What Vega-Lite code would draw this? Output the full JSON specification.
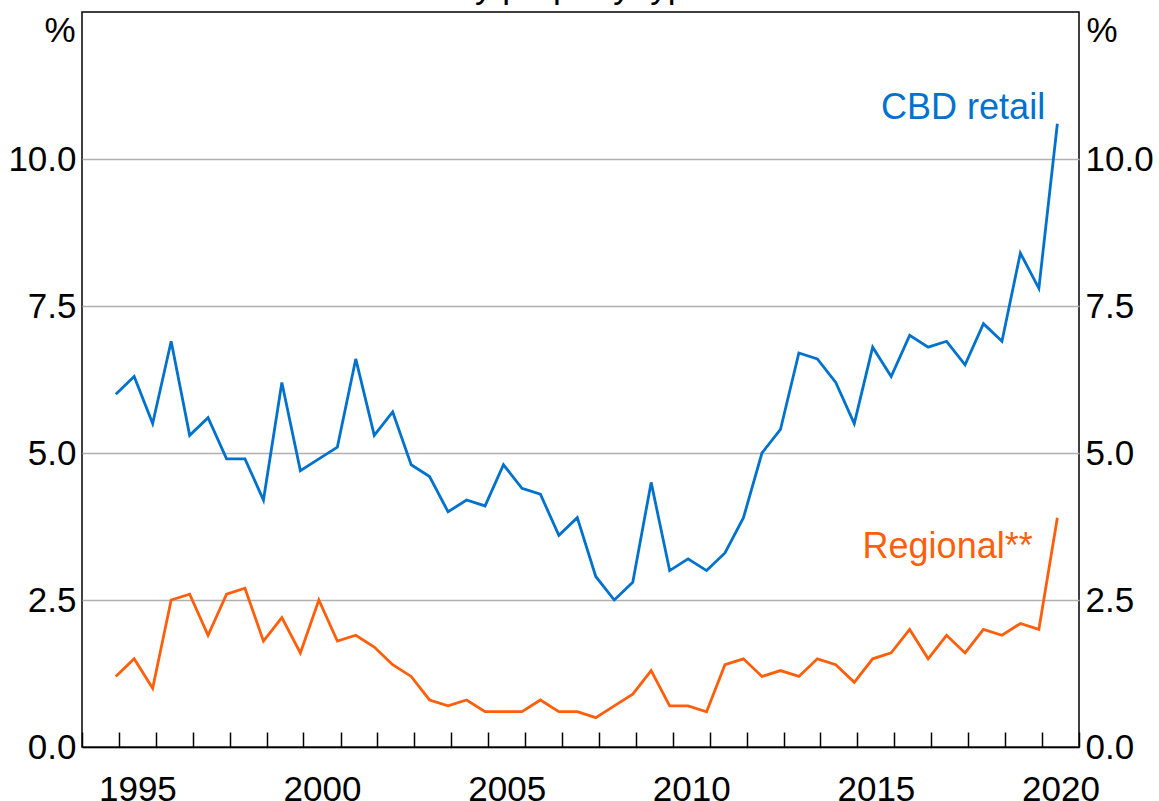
{
  "$schema": "https://vega.github.io/schema/vega-lite/v6.json",
  "width": 997,
  "height": 735,
  "autosize": {"type": "none"},
  "padding": {"left": 82, "top": 12, "right": 80, "bottom": 54},
  "config": {
    "view": {"stroke": "black", "strokeWidth": 1.5},
    "font": "Liberation Sans",
    "axis": {"labelFont": "Liberation Sans", "titleFont": "Liberation Sans", "labelColor": "black", "titleColor": "black"}
  },
  "layer": [
    {
      "data": {"values": [
        {"date": "1994-12-01", "cbd": 6.0, "regional": 1.2},
        {"date": "1995-06-01", "cbd": 6.3, "regional": 1.5},
        {"date": "1995-12-01", "cbd": 5.5, "regional": 1.0},
        {"date": "1996-06-01", "cbd": 6.9, "regional": 2.5},
        {"date": "1996-12-01", "cbd": 5.3, "regional": 2.6},
        {"date": "1997-06-01", "cbd": 5.6, "regional": 1.9},
        {"date": "1997-12-01", "cbd": 4.9, "regional": 2.6},
        {"date": "1998-06-01", "cbd": 4.9, "regional": 2.7},
        {"date": "1998-12-01", "cbd": 4.2, "regional": 1.8},
        {"date": "1999-06-01", "cbd": 6.2, "regional": 2.2},
        {"date": "1999-12-01", "cbd": 4.7, "regional": 1.6},
        {"date": "2000-06-01", "cbd": 4.9, "regional": 2.5},
        {"date": "2000-12-01", "cbd": 5.1, "regional": 1.8},
        {"date": "2001-06-01", "cbd": 6.6, "regional": 1.9},
        {"date": "2001-12-01", "cbd": 5.3, "regional": 1.7},
        {"date": "2002-06-01", "cbd": 5.7, "regional": 1.4},
        {"date": "2002-12-01", "cbd": 4.8, "regional": 1.2},
        {"date": "2003-06-01", "cbd": 4.6, "regional": 0.8},
        {"date": "2003-12-01", "cbd": 4.0, "regional": 0.7},
        {"date": "2004-06-01", "cbd": 4.2, "regional": 0.8},
        {"date": "2004-12-01", "cbd": 4.1, "regional": 0.6},
        {"date": "2005-06-01", "cbd": 4.8, "regional": 0.6},
        {"date": "2005-12-01", "cbd": 4.4, "regional": 0.6},
        {"date": "2006-06-01", "cbd": 4.3, "regional": 0.8},
        {"date": "2006-12-01", "cbd": 3.6, "regional": 0.6},
        {"date": "2007-06-01", "cbd": 3.9, "regional": 0.6},
        {"date": "2007-12-01", "cbd": 2.9, "regional": 0.5},
        {"date": "2008-06-01", "cbd": 2.5, "regional": 0.7},
        {"date": "2008-12-01", "cbd": 2.8, "regional": 0.9},
        {"date": "2009-06-01", "cbd": 4.5, "regional": 1.3},
        {"date": "2009-12-01", "cbd": 3.0, "regional": 0.7},
        {"date": "2010-06-01", "cbd": 3.2, "regional": 0.7},
        {"date": "2010-12-01", "cbd": 3.0, "regional": 0.6},
        {"date": "2011-06-01", "cbd": 3.3, "regional": 1.4},
        {"date": "2011-12-01", "cbd": 3.9, "regional": 1.5},
        {"date": "2012-06-01", "cbd": 5.0, "regional": 1.2},
        {"date": "2012-12-01", "cbd": 5.4, "regional": 1.3},
        {"date": "2013-06-01", "cbd": 6.7, "regional": 1.2},
        {"date": "2013-12-01", "cbd": 6.6, "regional": 1.5},
        {"date": "2014-06-01", "cbd": 6.2, "regional": 1.4},
        {"date": "2014-12-01", "cbd": 5.5, "regional": 1.1},
        {"date": "2015-06-01", "cbd": 6.8, "regional": 1.5},
        {"date": "2015-12-01", "cbd": 6.3, "regional": 1.6},
        {"date": "2016-06-01", "cbd": 7.0, "regional": 2.0},
        {"date": "2016-12-01", "cbd": 6.8, "regional": 1.5},
        {"date": "2017-06-01", "cbd": 6.9, "regional": 1.9},
        {"date": "2017-12-01", "cbd": 6.5, "regional": 1.6},
        {"date": "2018-06-01", "cbd": 7.2, "regional": 2.0},
        {"date": "2018-12-01", "cbd": 6.9, "regional": 1.9},
        {"date": "2019-06-01", "cbd": 8.4, "regional": 2.1},
        {"date": "2019-12-01", "cbd": 7.8, "regional": 2.0},
        {"date": "2020-06-01", "cbd": 10.6, "regional": 3.9}
      ]},
      "encoding": {
        "x": {
          "field": "date",
          "type": "temporal",
          "scale": {"type": "utc", "nice": false, "domain": [{"year": 1994, "utc": true}, {"year": 2021, "utc": true}]},
          "axis": {
            "title": null,
            "values": [
              {"year": 1994, "utc": true}, {"year": 1995, "utc": true}, {"year": 1996, "utc": true}, {"year": 1997, "utc": true},
              {"year": 1998, "utc": true}, {"year": 1999, "utc": true}, {"year": 2000, "utc": true}, {"year": 2001, "utc": true},
              {"year": 2002, "utc": true}, {"year": 2003, "utc": true}, {"year": 2004, "utc": true}, {"year": 2005, "utc": true},
              {"year": 2006, "utc": true}, {"year": 2007, "utc": true}, {"year": 2008, "utc": true}, {"year": 2009, "utc": true},
              {"year": 2010, "utc": true}, {"year": 2011, "utc": true}, {"year": 2012, "utc": true}, {"year": 2013, "utc": true},
              {"year": 2014, "utc": true}, {"year": 2015, "utc": true}, {"year": 2016, "utc": true}, {"year": 2017, "utc": true},
              {"year": 2018, "utc": true}, {"year": 2019, "utc": true}, {"year": 2020, "utc": true}, {"year": 2021, "utc": true}
            ],
            "labelExpr": "utcyear(datum.value) % 5 === 0 ? utcFormat(datum.value, '%Y') : ''",
            "labelOffset": 18.5,
            "labelFontSize": 35,
            "labelPadding": 40,
            "labelFlush": false,
            "labelOverlap": false,
            "labelBound": false,
            "ticks": true,
            "tickSize": -15,
            "tickColor": "black",
            "tickWidth": 1.5,
            "grid": false,
            "domain": true,
            "domainColor": "black",
            "domainWidth": 1.5,
            "zindex": 1
          }
        }
      },
      "layer": [
        {
          "mark": {"type": "line", "color": "#0072ce", "strokeWidth": 2.8},
          "encoding": {
            "y": {
              "field": "cbd",
              "type": "quantitative",
              "scale": {"domain": [0, 12.5], "nice": false},
              "axis": {
                "orient": "left",
                "values": [0, 2.5, 5, 7.5, 10],
                "format": ".1f",
                "ticks": false,
                "domain": false,
                "grid": true,
                "gridColor": "#b0b0b0",
                "gridWidth": 1.5,
                "labelFontSize": 35,
                "labelPadding": 6,
                "title": "%",
                "titleAngle": 0,
                "titleAlign": "right",
                "titleBaseline": "alphabetic",
                "titleX": -7,
                "titleY": 29,
                "titleFontSize": 35,
                "titleFontWeight": "normal"
              }
            }
          }
        },
        {
          "mark": {"type": "line", "color": "#ff5f0a", "strokeWidth": 2.8},
          "encoding": {"y": {"field": "regional", "type": "quantitative"}}
        },
        {
          "data": {"values": [{"label": "CBD retail", "date": "2020-02-01", "value": 10.68}]},
          "mark": {"type": "text", "color": "#0072ce", "fontSize": 36, "align": "right", "baseline": "alphabetic", "font": "Liberation Sans"},
          "encoding": {
            "y": {"field": "value", "type": "quantitative"},
            "text": {"field": "label", "type": "nominal"}
          }
        },
        {
          "data": {"values": [{"label": "Regional**", "date": "2019-10-01", "value": 3.21}]},
          "mark": {"type": "text", "color": "#ff5f0a", "fontSize": 36, "align": "right", "baseline": "alphabetic", "font": "Liberation Sans"},
          "encoding": {
            "y": {"field": "value", "type": "quantitative"},
            "text": {"field": "label", "type": "nominal"}
          }
        },
        {
          "data": {"values": [{"label": "By property type", "date": "2007-06-20", "value": 12.74}]},
          "mark": {"type": "text", "color": "black", "fontSize": 35, "align": "center", "baseline": "alphabetic", "font": "Liberation Sans", "clip": false},
          "encoding": {
            "y": {"field": "value", "type": "quantitative"},
            "text": {"field": "label", "type": "nominal"}
          }
        }
      ]
    },
    {
      "data": {"values": [{"v": 0}]},
      "mark": {"type": "rule", "opacity": 0},
      "encoding": {
        "y": {
          "field": "v",
          "type": "quantitative",
          "scale": {"domain": [0, 12.5], "nice": false},
          "axis": {
            "orient": "right",
            "values": [0, 2.5, 5, 7.5, 10],
            "format": ".1f",
            "ticks": false,
            "domain": false,
            "grid": false,
            "labelFontSize": 35,
            "labelPadding": 6,
            "title": "%",
            "titleAngle": 0,
            "titleAlign": "left",
            "titleBaseline": "alphabetic",
            "titleX": 7,
            "titleY": 29,
            "titleFontSize": 35,
            "titleFontWeight": "normal"
          }
        }
      }
    }
  ],
  "resolve": {"scale": {"y": "independent"}}
}
